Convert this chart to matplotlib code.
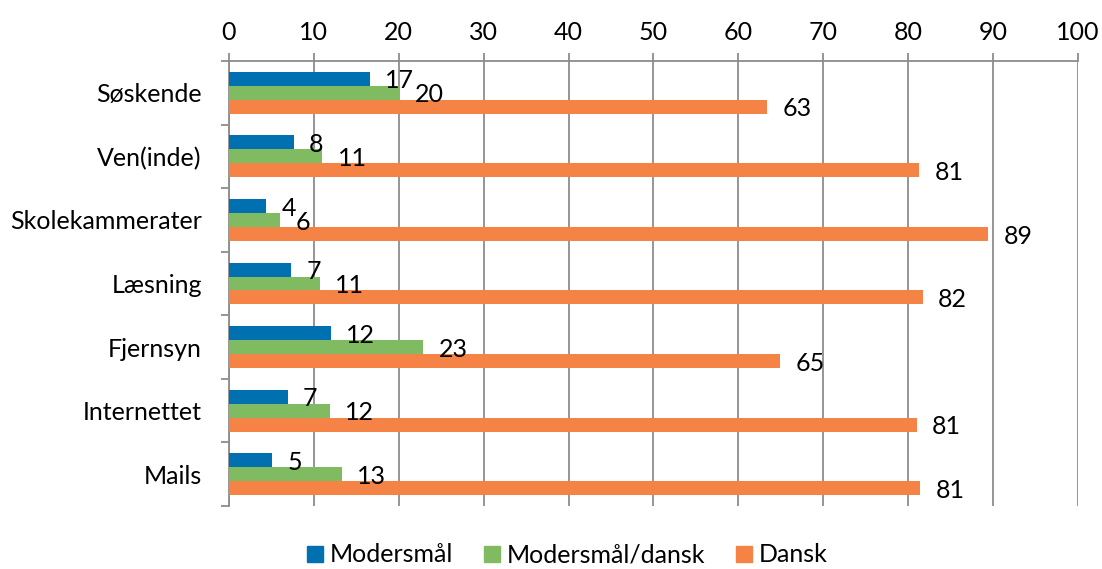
import numpy as np
import matplotlib.pyplot as plt
from matplotlib.lines import Line2D

plt.rcParams['font.family'] = ['Lato', 'DejaVu Sans']

categories = ["Søskende", "Ven(inde)", "Skolekammerater", "Læsning",
              "Fjernsyn", "Internettet", "Mails"]
series = ["Modersmål", "Modersmål/dansk", "Dansk"]
modersmaal = [16.6, 7.6, 4.4, 7.3, 12.0, 6.9, 5.1]
modersmaal_dansk = [20.1, 11.0, 6.0, 10.7, 22.9, 11.9, 13.3]
dansk = [63.4, 81.3, 89.4, 81.7, 64.9, 81.0, 81.4]
colors = ["#0070B0", "#80BB62", "#F58345"]

values = [modersmaal, modersmaal_dansk, dansk]
fs = 18

fig = plt.figure(figsize=(11.02, 5.69), dpi=100)
ax = fig.add_axes([0.2078, 0.1107, 0.7704, 0.7821])

grid_c = "#8C8C8C"
y = np.arange(len(categories))
h = 0.22
for i, (vals, c) in enumerate(zip(values, colors)):
    pos = y + (i - 1) * h
    ax.barh(pos, vals, height=h, color=c, zorder=3)
    for p, v in zip(pos, vals):
        ax.annotate("%d" % round(v), (v, p), xytext=(11, -1.5),
                    textcoords="offset points", ha="left", va="center",
                    fontsize=fs, zorder=4)

ax.set_xlim(0, 100)
ax.set_ylim(len(categories) - 0.5, -0.5)
ax.set_xticks(np.arange(0, 101, 10))
ax.xaxis.tick_top()
ax.tick_params(axis="x", length=6, width=1.3, color=grid_c, labelsize=fs, pad=6)
ax.grid(axis="x", color=grid_c, linewidth=1.3, zorder=0)

ax.set_yticks(y)
ax.set_yticklabels(categories)
ax.set_yticks(np.arange(-0.5, len(categories)), minor=True)
ax.tick_params(axis="y", which="major", length=0, labelsize=fs, pad=19.5)
ax.tick_params(axis="y", which="minor", length=6, width=1.3, color=grid_c)

for s in ["right", "bottom"]:
    ax.spines[s].set_visible(False)
for s in ["top", "left"]:
    ax.spines[s].set_color(grid_c)
    ax.spines[s].set_linewidth(1.3)

handles = [Line2D([], [], marker="s", linestyle="none", markersize=11,
                  markerfacecolor=c, markeredgecolor=c) for c in colors]
fig.legend(handles, series, loc="center", bbox_to_anchor=(0.5127, 0.025),
           ncol=3, frameon=False, fontsize=fs, handletextpad=0.1,
           columnspacing=1.05, handlelength=1.0)

fig.savefig("out.png")
